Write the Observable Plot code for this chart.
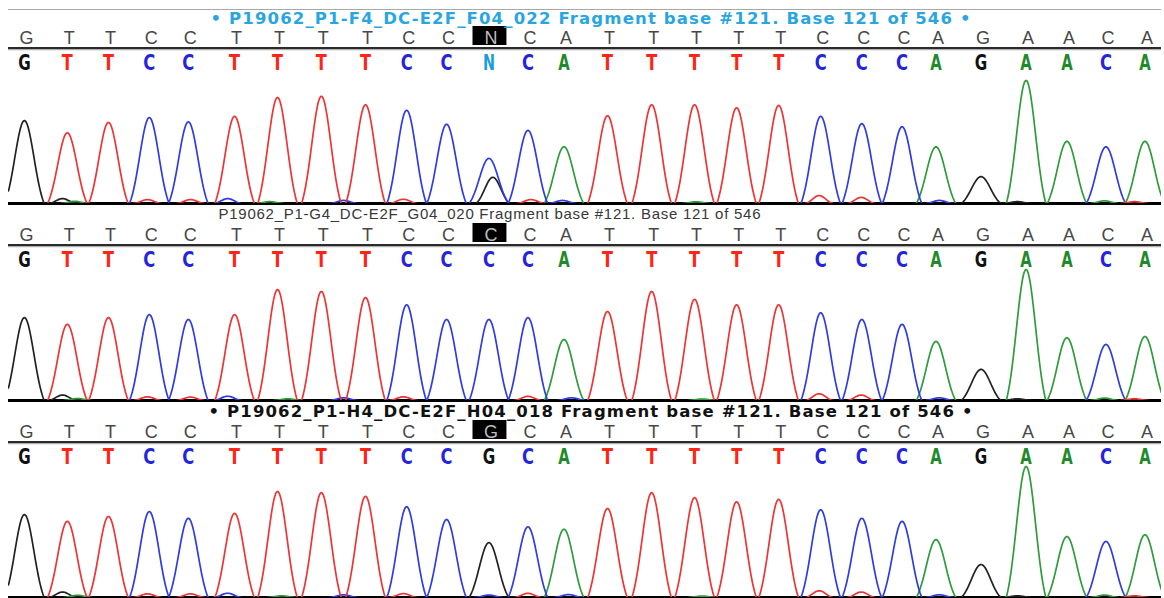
<!DOCTYPE html>
<html><head><meta charset="utf-8">
<script src="https://cdn.jsdelivr.net/npm/d3@7"></script>
<script src="https://cdn.jsdelivr.net/npm/@observablehq/plot@0.6"></script>
<style>
html,body{margin:0;padding:0;background:#fff;overflow:hidden;}
#chart{width:1164px;height:598px;overflow:hidden;padding-top:8px;box-sizing:border-box;}
#chart svg{display:block;overflow:visible;}
</style></head><body><div id="chart"></div>
<script>
// ---- data ----
// scan positions of the 28 called bases
const baseScans = [1008.3, 1022.6, 1036.3, 1049.9, 1062.9, 1078.3, 1092.6, 1107.2, 1121.9, 1135.6,
  1148.9, 1163.0, 1176.0, 1188.0, 1202.5, 1217.2, 1231.5, 1245.5, 1259.5, 1273.5,
  1287.2, 1300.6, 1311.9, 1326.9, 1341.9, 1355.5, 1368.5, 1381.5];

const titles = [
  "• P19062_P1-F4_DC-E2F_F04_022 Fragment base #121. Base 121 of 546 •",
  "P19062_P1-G4_DC-E2F_G04_020 Fragment base #121. Base 121 of 546",
  "• P19062_P1-H4_DC-E2F_H04_018 Fragment base #121. Base 121 of 546 •"
];
const callsF4 = "GTTCCTTTTCCNCATTTTTCCCAGAACA";
const callsG4 = "GTTCCTTTTCCCCATTTTTCCCAGAACA";
const callsH4 = "GTTCCTTTTCCGCATTTTTCCCAGAACA";
const highlightIndex = 11;

// dominant dye of each peak
const peaksF4 = "GTTCCTTTTCCCCATTTTTCCCAGAACA";
const peaksG4 = "GTTCCTTTTCCCCATTTTTCCCAGAACA";
const peaksH4 = "GTTCCTTTTCCGCATTTTTCCCAGAACA";

// peak heights (signal units)
const heightF4 = [680, 580, 665, 705, 670, 715, 870, 880, 810, 765, 650, 370, 600, 465, 720, 810, 810, 785, 805, 715, 655, 630, 465, 220, 1010, 510, 465, 510];
const heightG4 = [680, 625, 680, 705, 665, 705, 910, 895, 845, 785, 665, 665, 680, 500, 730, 895, 830, 785, 785, 720, 665, 625, 485, 255, 1075, 515, 460, 525];
const heightH4 = [680, 625, 665, 705, 650, 690, 870, 860, 830, 745, 640, 450, 580, 560, 730, 860, 820, 785, 805, 720, 650, 625, 475, 270, 1075, 500, 460, 515];

// secondary / background peaks: [dye, scan, height, width]
const minorF4 = [["G",1164.3,215,2.7],["G",1021.0,40],["A",1025,18],["T",1049.3,32],["T",1063.6,32],["C",1076.0,40],["A",1090,15],
  ["C",1114.6,25],["T",1134.5,35],["T",1177.0,32],["C",1187.5,25],["A",1232,14],["T",1273.0,65],["T",1287.0,50],
  ["C",1313.0,25],["G",1339,15],["A",1368,22],["T",1378,15]];
const minorG4 = [["G",1021.0,45],["A",1026,16],["T",1049.3,30],["T",1063.6,28],["C",1076.0,35],["A",1096,14],
  ["C",1114.6,22],["T",1134.5,30],["T",1176.0,34],["C",1190.5,22],["A",1234,12],["T",1273.0,55],["T",1287.0,45],
  ["C",1313.0,22],["G",1339,14],["A",1368,20],["T",1378,14]];
const minorH4 = [["G",1021.0,45],["A",1026,18],["T",1049.3,30],["T",1063.6,30],["C",1076.0,35],["A",1094,14],
  ["C",1114.6,22],["T",1134.5,32],["T",1176.0,34],["C",1189.5,24],["A",1234,12],["T",1273.0,55],["T",1287.0,45],
  ["C",1313.0,22],["G",1339,14],["A",1368,20],["T",1378,14],["C",1163.0,20]];

// ---- styling ----
const dyeColor = {A: "#2f9b3a", C: "#2f3ce0", G: "#222222", T: "#ec3535"};
const callColor = {A: "#1f8a2a", C: "#2424dc", G: "#111111", T: "#ff2414", N: "#1b9be0"};
const callWidth = {A: 11.5, C: 12, G: 12.5, T: 11, N: 12};

const X_DOMAIN = [1003, 1387];
const Y_MAX = 1600, PANEL_H = 197, MB = 2;
const PX = Y_MAX / (PANEL_H - MB);
const yAt = p => (PANEL_H - MB - p) * PX;   // pixel offset from panel top -> y value
const SIGMA = 3.2, SIGMA_MINOR = 2.2, CUT = 0.12, STEP = 0.2;

function shape(d, w) {
  const g = Math.exp(-d * d / (2 * w * w));
  return Math.max(0, (g - CUT) / (1 - CUT));
}

function buildTrace(dyes, heights, minor) {
  const peaks = dyes.split("").map((b, i) => ({ch: b, scan: baseScans[i], h: heights[i], w: SIGMA}));
  minor.forEach(([ch, scan, h, w]) => peaks.push({ch, scan, h, w: w || SIGMA_MINOR}));
  const out = [];
  for (const ch of ["G", "A", "C", "T"]) {
    const pk = peaks.filter(p => p.ch === ch);
    const vals = [];
    for (let s = X_DOMAIN[0]; s <= X_DOMAIN[1] + 1e-9; s += STEP) {
      let v = 0;
      for (const p of pk) v += p.h * shape(s - p.scan, p.w);
      vals.push([s, v]);
    }
    vals.forEach(([s, v], i) => {
      const keep = v > 0 || (i > 0 && vals[i - 1][1] > 0) || (i < vals.length - 1 && vals[i + 1][1] > 0);
      out.push({ch, scan: s, v: keep ? v : NaN});
    });
  }
  return out;
}

const panels = [
  {calls: callsF4, dyes: peaksF4, heights: heightF4, minor: minorF4, title: titles[0],
   titleColor: "#29a6df", titleWeight: "bold", titleSize: 16.5, titleFont: "DejaVu Sans", titleDx: 202, titleLen: 760, titleP: 10.5, topLine: true},
  {calls: callsG4, dyes: peaksG4, heights: heightG4, minor: minorG4, title: titles[1],
   titleColor: "#383838", titleWeight: "normal", titleSize: 15, titleFont: "Liberation Sans", titleDx: 210, titleLen: 542, titleP: 8.5, topLine: false},
  {calls: callsH4, dyes: peaksH4, heights: heightH4, minor: minorH4, title: titles[2],
   titleColor: "#111111", titleWeight: "bold", titleSize: 16.5, titleFont: "DejaVu Sans", titleDx: 200, titleLen: 764, titleP: 9, topLine: false}
];

const chart = document.getElementById("chart");

for (const cfg of panels) {
  const letters = cfg.calls.split("").map((b, i) => ({b, scan: baseScans[i], hi: i === highlightIndex}));
  const trace = buildTrace(cfg.dyes, cfg.heights, cfg.minor);
  const marks = [];
  if (cfg.topLine) marks.push(Plot.ruleY([yAt(1)], {stroke: "#a8a8a8", strokeWidth: 1}));
  marks.push(
    Plot.rect(letters.filter(d => d.hi), {
      x1: d => d.scan - 5.3, x2: d => d.scan + 6.0, y1: yAt(37), y2: yAt(18), fill: "#000"
    }),
    Plot.ruleY([yAt(39.5)], {stroke: "#2a2a2a", strokeWidth: 2}),
    Plot.ruleY([yAt(41.2)], {stroke: "#9a9a9a", strokeWidth: 1}),
    Plot.ruleY([0], {stroke: "#000", strokeWidth: 3}),
    Plot.line(trace, {x: "scan", y: "v", z: "ch", stroke: d => dyeColor[d.ch], strokeWidth: 1.7, clip: true}),
    // text marks: 0 = title, 1 = upper calls, 2 = lower calls
    Plot.text([cfg.title], {
      y: yAt(cfg.titleP), frameAnchor: "left", dx: cfg.titleDx, textAnchor: "start", text: d => d,
      fill: cfg.titleColor, fontWeight: cfg.titleWeight, fontSize: cfg.titleSize, fontFamily: cfg.titleFont
    }),
    Plot.text(letters, {
      x: "scan", y: yAt(29.5), dx: 2, text: "b", fill: d => d.hi ? "#bdbdbd" : "#474747",
      fontSize: 18, fontFamily: "Liberation Sans, Arial, sans-serif"
    }),
    Plot.text(letters, {
      x: "scan", y: yAt(54.5), text: "b", fill: d => callColor[d.b],
      fontSize: 22, fontWeight: "bold", fontFamily: "DejaVu Sans"
    })
  );
  const svg = Plot.plot({
    width: 1164, height: PANEL_H,
    marginLeft: 8, marginRight: 3, marginTop: 0, marginBottom: MB,
    x: {domain: X_DOMAIN, axis: null},
    y: {domain: [0, Y_MAX], axis: null},
    color: {type: "identity"},
    style: {background: "transparent", overflow: "visible"},
    marks
  });
  const textGroups = svg.querySelectorAll('g[aria-label="text"]');
  if (textGroups.length >= 3) {
    textGroups[0].querySelectorAll("text").forEach(el => {
      el.setAttribute("textLength", cfg.titleLen);
      el.setAttribute("lengthAdjust", "spacing");
    });
    textGroups[2].querySelectorAll("text").forEach(el => {
      const t = el.textContent.trim();
      el.setAttribute("textLength", callWidth[t] || 12);
      el.setAttribute("lengthAdjust", "spacingAndGlyphs");
    });
  }
  chart.appendChild(svg);
}
</script></body></html>
